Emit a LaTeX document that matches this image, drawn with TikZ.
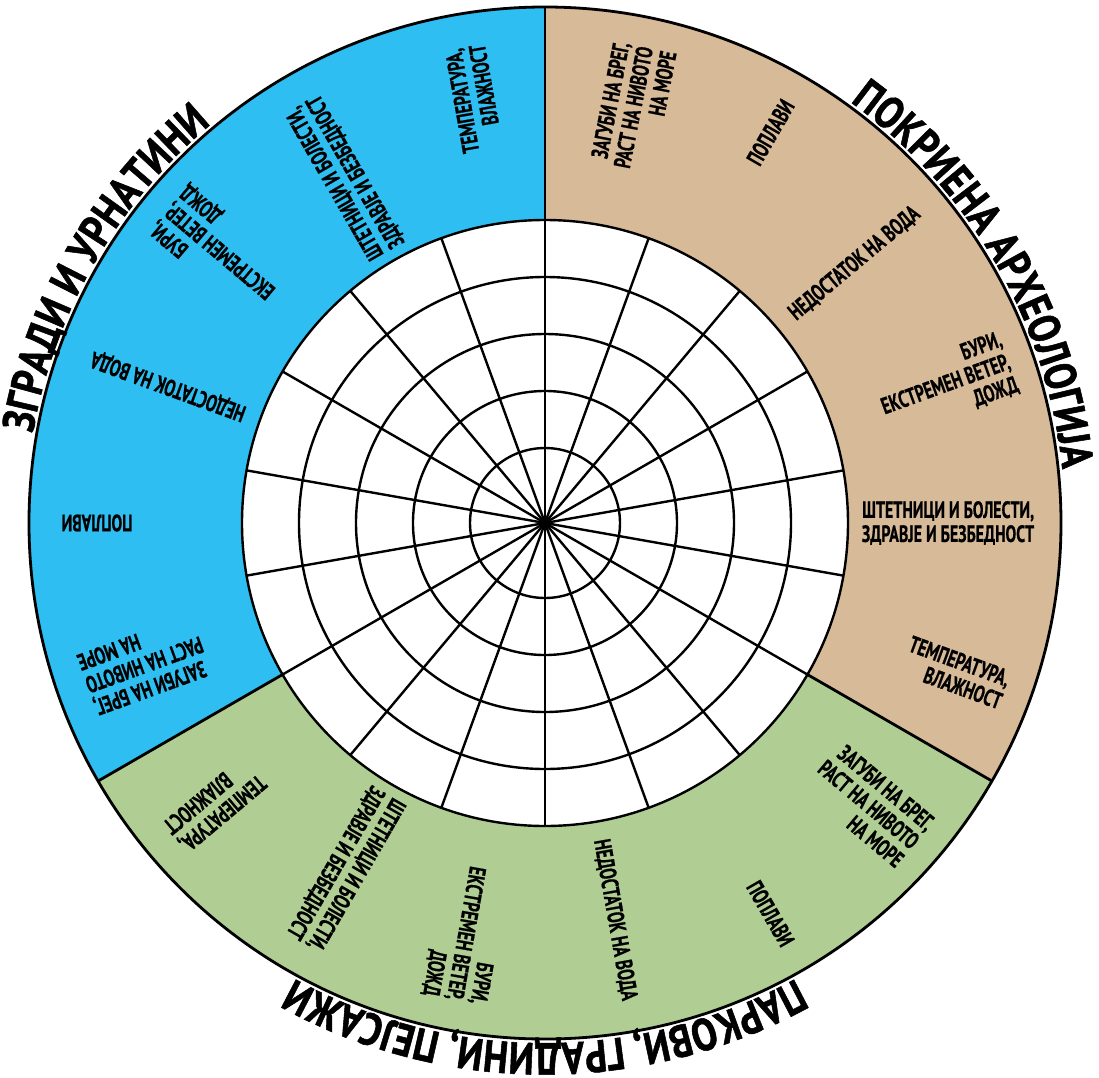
\documentclass[tikz,border=0pt]{standalone}
\usepackage{fontspec}
\usetikzlibrary{decorations.text}
\newfontfamily\lblfont{PT Sans}[FakeStretch=0.68,FakeBold=0.6]
\newfontfamily\ttlfamily{PT Sans}[FakeStretch=0.84,FakeBold=1.2]
\newcommand\ttlf{\ttlfamily\bfseries\fontsize{45}{45}\selectfont}
\definecolor{bluec}{RGB}{46,190,241}
\definecolor{tanc}{RGB}{215,186,152}
\definecolor{greenc}{RGB}{176,206,148}
\tikzset{
  lbl/.style={font=\lblfont\bfseries\fontsize{23.5}{24}\selectfont, align=right, inner sep=0pt},
  gridline/.style={line width=2.4pt, black},
  rim/.style={line width=2.8pt, black},
  ttl/.style={decorate, decoration={text along path, text align=center, text={|\ttlf|#1}}}
}
\begin{document}
\begin{tikzpicture}
\useasboundingbox (-545pt,-554pt) rectangle (554pt,523pt);
\coordinate (c) at (0,0);
% sectors
\fill[bluec] (c) -- (90:516pt) arc[start angle=90,end angle=210,radius=516pt] -- cycle;
\fill[tanc] (c) -- (90:516pt) arc[start angle=90,end angle=-30,radius=516pt] -- cycle;
\fill[greenc] (c) -- (210:516pt) arc[start angle=210,end angle=330,radius=516pt] -- cycle;
\fill[white] (c) circle[radius=303pt];
% grid
\foreach \a in {10,30,...,350} \draw[gridline] (c) -- (\a:303pt);
\foreach \r in {75,132,189,246,303} \draw[gridline] (c) circle[radius=\r pt];
\foreach \a in {90,210,330} \draw[rim] (\a:303pt) -- (\a:516pt);
\draw[rim] (c) circle[radius=516pt];
% titles
\path[ttl={ПОКРИЕНА АРХЕОЛОГИЈА}] (90:520pt) arc[start angle=90,end angle=-30,radius=520pt];
\path[ttl={ЗГРАДИ И УРНАТИНИ}] (210:520pt) arc[start angle=210,end angle=90,radius=520pt];
\path[ttl={ПАРКОВИ, ГРАДИНИ, ПЕЈСАЖИ}] (-30:520pt) arc[start angle=-30,end angle=-150,radius=520pt];
% tan labels
\node[lbl, rotate=79] (t1) at (78:425pt) {ЗАГУБИ НА БРЕГ,\\РАСТ НА НИВОТО\\НА МОРЕ};
\node[lbl, rotate=60] (t2) at (60:451pt) {ПОПЛАВИ};
\node[lbl, rotate=40] (t3) at (40:404pt) {НЕДОСТАТОК НА ВОДА};
\node[lbl, rotate=20] (t4) at (19:424pt) {БУРИ,\\ЕКСТРЕМЕН ВЕТЕР,\\ДОЖД};
\node[lbl, rotate=0] (t5) at (0:403pt) {ШТЕТНИЦИ И БОЛЕСТИ,\\ЗДРАВЈЕ И БЕЗБЕДНОСТ};
\node[lbl, rotate=-20] (t6) at (-20:437pt) {ТЕМПЕРАТУРА,\\ВЛАЖНОСТ};
% blue labels
\node[lbl, rotate=100] (b1) at (99.5:430pt) {ТЕМПЕРАТУРА,\\ВЛАЖНОСТ};
\node[lbl, rotate=120] (b2) at (120:399pt) {ШТЕТНИЦИ И БОЛЕСТИ,\\ЗДРАВЈЕ И БЕЗБЕДНОСТ};
\node[lbl, rotate=140] (b3) at (140:424pt) {БУРИ,\\ЕКСТРЕМЕН ВЕТЕР,\\ДОЖД};
\node[lbl, rotate=160] (b4) at (160:401pt) {НЕДОСТАТОК НА ВОДА};
\node[lbl, rotate=180] (b5) at (180:448pt) {ПОПЛАВИ};
\node[lbl, rotate=200] (b6) at (199.5:425pt) {ЗАГУБИ НА БРЕГ,\\РАСТ НА НИВОТО\\НА МОРЕ};
% green labels
\node[lbl, rotate=220] (g1) at (220.5:434pt) {ТЕМПЕРАТУРА,\\ВЛАЖНОСТ};
\node[lbl, rotate=240] (g2) at (240:399pt) {ШТЕТНИЦИ И БОЛЕСТИ,\\ЗДРАВЈЕ И БЕЗБЕДНОСТ};
\node[lbl, rotate=260] (g3) at (259:418pt) {БУРИ,\\ЕКСТРЕМЕН ВЕТЕР,\\ДОЖД};
\node[lbl, rotate=280] (g4) at (280:403pt) {НЕДОСТАТОК НА ВОДА};
\node[lbl, rotate=300] (g5) at (300:451pt) {ПОПЛАВИ};
\node[lbl, rotate=320] (g6) at (319:429pt) {ЗАГУБИ НА БРЕГ,\\РАСТ НА НИВОТО\\НА МОРЕ};
\end{tikzpicture}
\end{document}
